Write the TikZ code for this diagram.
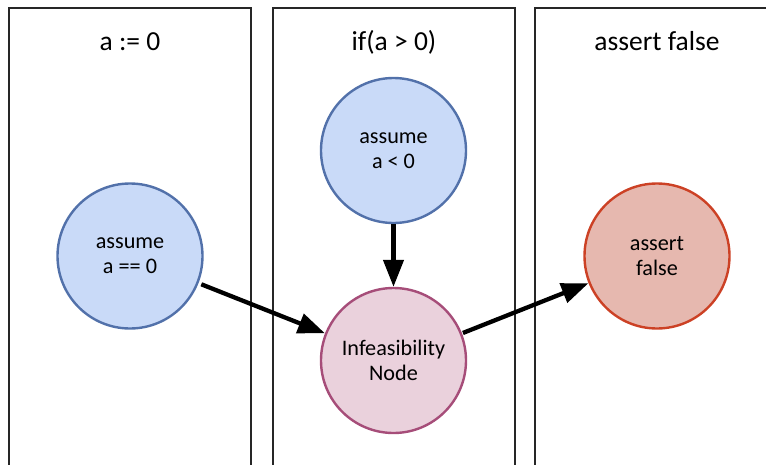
\documentclass[tikz,border=0pt]{standalone}
\usepackage{fontspec}
\setmainfont{Carlito}
\usetikzlibrary{arrows.meta}
\definecolor{blueFill}{HTML}{C9DAF8}
\definecolor{blueLine}{HTML}{5271AA}
\definecolor{pinkFill}{HTML}{EAD1DC}
\definecolor{pinkLine}{HTML}{A64D79}
\definecolor{redFill}{HTML}{E6B8AF}
\definecolor{redLine}{HTML}{CC4125}
\tikzset{
  lane/.style={draw=black!85, line width=1.3pt},
  lanetitle/.style={font=\fontsize{27.5}{32}\selectfont, anchor=base},
  state/.style={circle, minimum size=145pt, inner sep=0pt, line width=2.4pt,
    align=center, font=\fontsize{22.2}{25}\selectfont},
  assumenode/.style={state, fill=blueFill, draw=blueLine},
  infnode/.style={state, fill=pinkFill, draw=pinkLine},
  assertnode/.style={state, fill=redFill, draw=redLine},
  flow/.style={line width=4.3pt, -{Triangle[length=27pt,width=20pt]}}
}
\begin{document}
\begin{tikzpicture}[x=1pt,y=-1pt]
  \useasboundingbox (0,0) rectangle (766,464);
  \clip (0,0) rectangle (766,464);
  % three swim lanes, open at the bottom edge
  \draw[lane] (9,8) rectangle (251,480);
  \draw[lane] (273,8) rectangle (515,480);
  \draw[lane] (535,8) rectangle (790,480);
  % lane titles
  \node[lanetitle] (t1) at (130,50) {a := 0};
  \node[lanetitle] (t2) at (394,50) {if(a > 0)};
  \node[lanetitle] (t3) at (657,50) {assert false};
  % states
  \node[assumenode] (eq) at (130,256) {assume\\a == 0};
  \node[assumenode] (lt) at (393.5,150.5) {assume\\a < 0};
  \node[infnode] (inf) at (393.5,360.5) {Infeasibility\\Node};
  \node[assertnode] (af) at (657,256) {assert\\false};
  % transitions
  \draw[flow, shorten <=3pt] (eq) -- (inf);
  \draw[flow] (lt) -- (inf);
  \draw[flow, shorten <=1pt] (inf) -- (af);
\end{tikzpicture}
\end{document}
